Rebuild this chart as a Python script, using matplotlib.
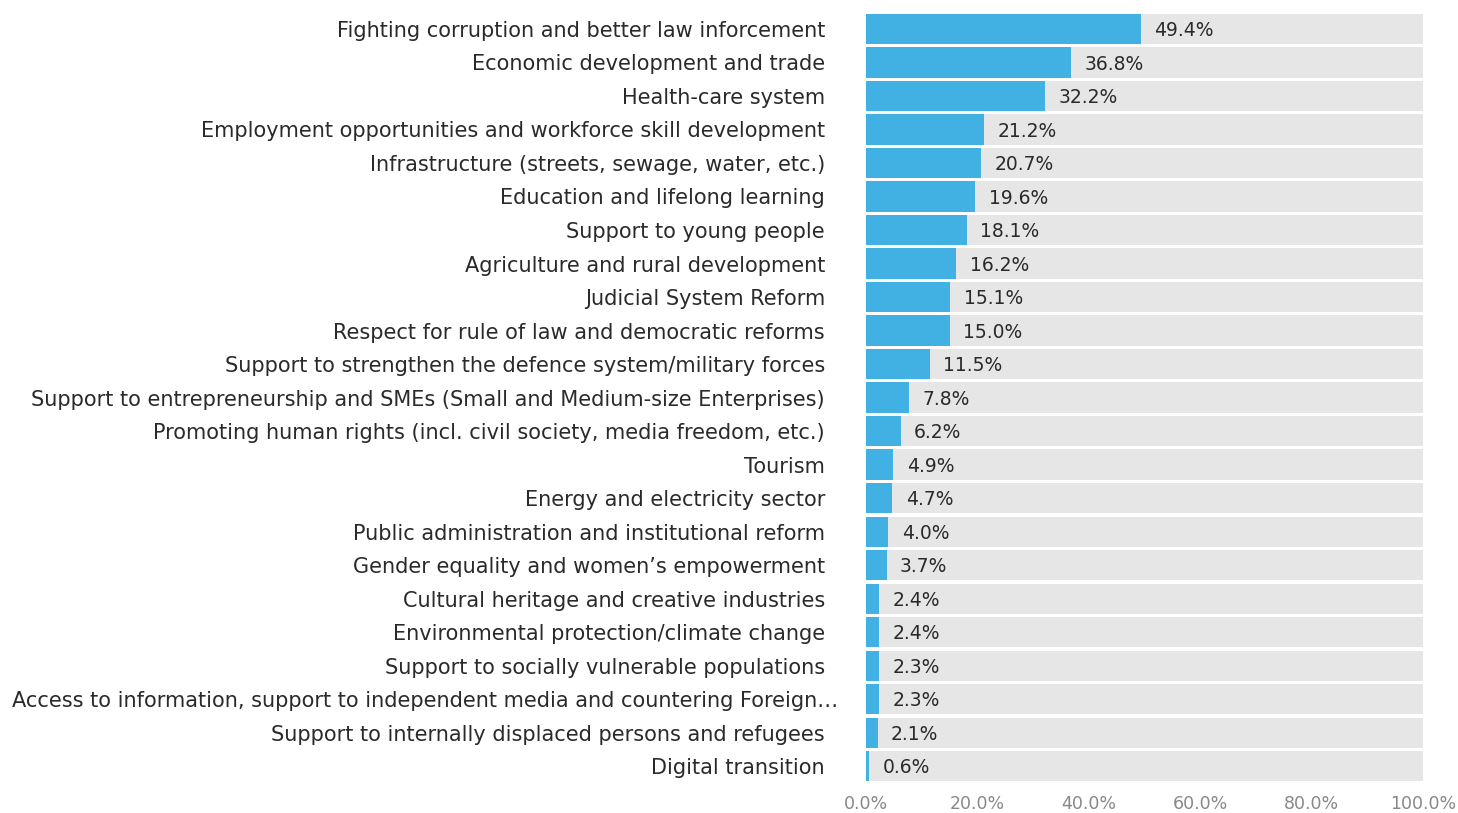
import matplotlib
matplotlib.use('Agg')
import matplotlib.pyplot as plt
import matplotlib.transforms as mtransforms
import numpy as np

categories = [
    'Fighting corruption and better law inforcement',
    'Economic development and trade',
    'Health-care system',
    'Employment opportunities and workforce skill development',
    'Infrastructure (streets, sewage, water, etc.)',
    'Education and lifelong learning',
    'Support to young people',
    'Agriculture and rural development',
    'Judicial System Reform',
    'Respect for rule of law and democratic reforms',
    'Support to strengthen the defence system/military forces',
    'Support to entrepreneurship and SMEs (Small and Medium-size Enterprises)',
    'Promoting human rights (incl. civil society, media freedom, etc.)',
    'Tourism',
    'Energy and electricity sector',
    'Public administration and institutional reform',
    'Gender equality and women\u2019s empowerment',
    'Cultural heritage and creative industries',
    'Environmental protection/climate change',
    'Support to socially vulnerable populations',
    'Access to information, support to independent media and countering Foreign\u2026',
    'Support to internally displaced persons and refugees',
    'Digital transition',
]
values = [49.4, 36.8, 32.2, 21.2, 20.7, 19.6, 18.1, 16.2, 15.1, 15.0, 11.5, 7.8,
          6.2, 4.9, 4.7, 4.0, 3.7, 2.4, 2.4, 2.3, 2.3, 2.1, 0.6]
xticks = [0, 20, 40, 60, 80, 100]

blue = '#41B0E3'
grey = '#E6E6E6'
txt = '#2a2a2a'

plt.rcParams['font.family'] = ['DejaVu Sans']

fig = plt.figure(figsize=(14.58, 8.13), dpi=100)
ax = fig.add_axes([0.594, 0.037, 0.382, 0.948])

y = np.arange(len(categories))
ax.barh(y, [100] * len(y), height=0.9, color=grey, zorder=1)
ax.barh(y, values, height=0.9, color=blue, zorder=2)

for yi, v in zip(y, values):
    ax.text(v + 2.4, yi + 0.05, f'{v:.1f}%', va='center', ha='left',
            fontsize=13.5, color=txt, zorder=3)

ax.set_xlim(0, 100)
ax.set_ylim(len(y) - 0.5, -0.5)
ax.set_yticks(y)
ax.set_yticklabels(categories, fontsize=15, color=txt)
ax.set_xticks(xticks)
ax.set_xticklabels([f'{t:.1f}%' for t in xticks], fontsize=12.5, color='#888888')
ax.tick_params(axis='y', length=0, pad=29.5)
ax.tick_params(axis='x', length=0, pad=8.5)
for s in ax.spines.values():
    s.set_visible(False)

# the truncated label sits a bit further right in the original
lbl = ax.get_yticklabels()[20]
lbl.set_transform(lbl.get_transform() + mtransforms.ScaledTranslation(0.13, 0, fig.dpi_scale_trans))

fig.savefig('out.png', dpi=100)
